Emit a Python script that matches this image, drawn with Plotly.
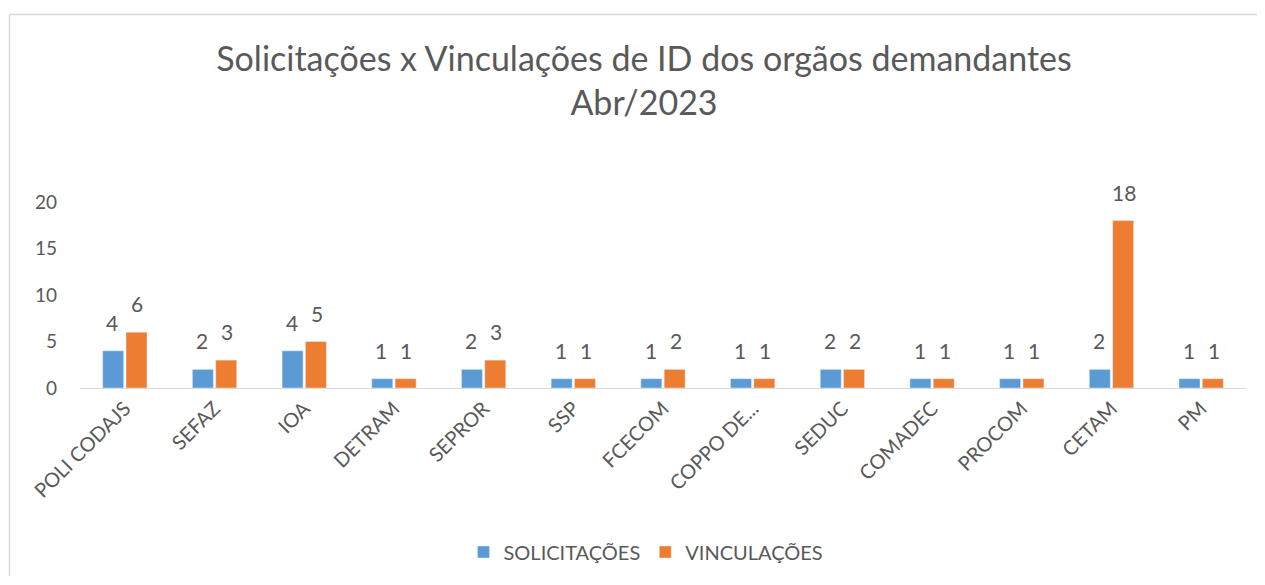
import plotly.graph_objects as go

categories = ["POLI CODAJS", "SEFAZ", "IOA", "DETRAM", "SEPROR", "SSP", "FCECOM",
              "COPPO DE...", "SEDUC", "COMADEC", "PROCOM", "CETAM", "PM"]
solicitacoes = [4, 2, 4, 1, 2, 1, 1, 1, 2, 1, 1, 2, 1]
vinculacoes = [6, 3, 5, 1, 3, 1, 2, 1, 2, 1, 1, 18, 1]
y_ticks = [0, 5, 10, 15, 20]

FONT = "Lato"
GREY = "#595959"

D = 7  # page offset of the figure in the screenshot
W, H = 1258, 569
L, T = 79 - D, 201 - D
R = W - (1245 - D)
B = H - (387 - D)
pw, ph = W - L - R, H - T - B

fig = go.Figure()
fig.add_trace(go.Bar(name="SOLICITAÇÕES", x=categories, y=solicitacoes,
                     marker_color="#5B9BD5"))
fig.add_trace(go.Bar(name="VINCULAÇÕES", x=categories, y=vinculacoes,
                     marker_color="#ED7D31"))

annotations = []
for series, shift in ((solicitacoes, -12.5), (vinculacoes, 12.5)):
    for c, v in zip(categories, series):
        annotations.append(dict(x=c, y=v, xref="x", yref="y", text=str(v),
                                showarrow=False, xshift=shift, yshift=14,
                                yanchor="bottom",
                                font=dict(family=FONT, size=21, color=GREY)))


def px_x(p):  # screen pixel -> paper x
    return (p - D - L) / pw


def px_y(p):  # screen pixel -> paper y
    return (H - B - (p - D)) / ph


border = dict(color="#D9D9D9", width=1.5)

fig.update_layout(
    width=W, height=H,
    margin=dict(l=L, r=R, t=T, b=B, autoexpand=False),
    paper_bgcolor="white", plot_bgcolor="white",
    font=dict(family=FONT, color=GREY, size=19),
    barmode="group", bargap=0.48, bargroupgap=0.1,
    title=dict(text="Solicitações x Vinculações de ID dos orgãos demandantes<br>Abr/2023",
               x=px_x(643), xanchor="center", xref="paper",
               y=1 - 63 / H, yanchor="top",
               font=dict(family=FONT, size=34, color=GREY)),
    xaxis=dict(tickangle=-45, showgrid=False, showline=True, linecolor="#D9D9D9",
               linewidth=1, ticks="", tickfont=dict(size=20, color=GREY),
               automargin=False),
    yaxis=dict(range=[0, 20], tickvals=y_ticks, showgrid=False, zeroline=False,
               showline=False, ticks="", ticklabelstandoff=22,
               tickfont=dict(size=19, color=GREY), automargin=False),
    legend=dict(orientation="h", x=px_x(645), xanchor="center", y=px_y(551),
                yanchor="middle", font=dict(size=20, color=GREY), itemwidth=30,
                traceorder="normal"),
    showlegend=True,
    annotations=annotations,
    shapes=[
        dict(type="line", xref="paper", yref="paper",
             x0=px_x(8.5), x1=px_x(D + W - 1), y0=px_y(13.5), y1=px_y(13.5),
             line=border, layer="below"),
        dict(type="line", xref="paper", yref="paper",
             x0=px_x(8.5), x1=px_x(8.5), y0=px_y(13.5), y1=px_y(D + H - 1),
             line=border, layer="below"),
    ],
)

fig.write_html("out.html")
